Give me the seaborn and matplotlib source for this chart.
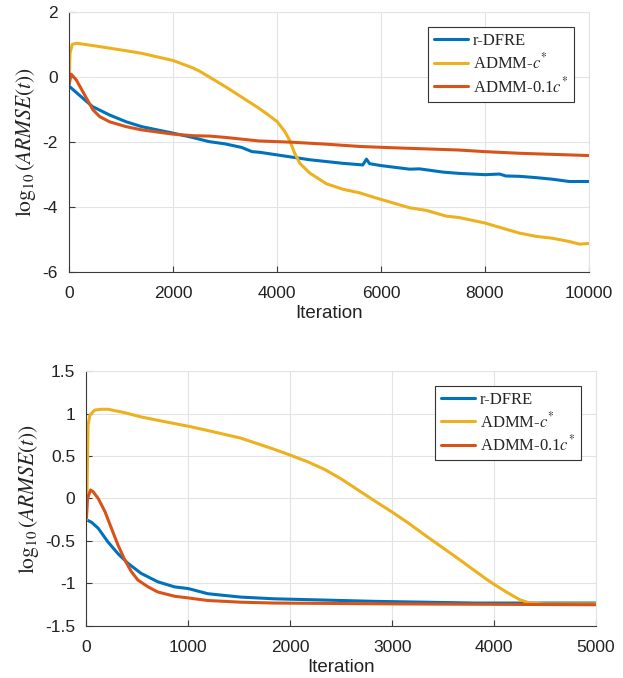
import numpy as np
import pandas as pd
import seaborn as sns
import matplotlib.pyplot as plt

# values
# top panel (10000 iterations), one (iteration, value) list per method
top_dfre_it = [0, 450, 780, 1100, 1400, 2000, 2370, 2690, 3000, 3320, 3520, 3670, 4000,
               4630, 5270, 5650, 5720, 5780, 6000, 6550, 6740, 7190, 7500, 8000, 8280,
               8400, 8660, 8980, 9300, 9620, 10000]
top_dfre = [-0.27, -0.9, -1.16, -1.37, -1.52, -1.72, -1.85, -1.98, -2.05, -2.16, -2.29,
            -2.31, -2.39, -2.54, -2.65, -2.7, -2.52, -2.66, -2.72, -2.83, -2.82, -2.92,
            -2.96, -3.0, -2.98, -3.04, -3.05, -3.09, -3.14, -3.21, -3.21]

top_admm_it = [0, 20, 64, 150, 460, 1100, 1400, 2000, 2370, 2500, 2690, 3000, 3390, 3650,
               3800, 4000, 4150, 4240, 4340, 4440, 4630, 4950, 5270, 5590, 5910, 6230,
               6550, 6870, 7260, 7500, 8000, 8340, 8660, 8980, 9300, 9620, 9820, 10000]
top_admm = [-0.2, 0.75, 1.02, 1.05, 0.98, 0.82, 0.74, 0.52, 0.3, 0.2, 0.02, -0.28, -0.68,
            -0.95, -1.12, -1.36, -1.67, -1.93, -2.34, -2.65, -2.95, -3.28, -3.45, -3.56,
            -3.72, -3.87, -4.02, -4.1, -4.28, -4.32, -4.49, -4.65, -4.8, -4.9, -4.96,
            -5.06, -5.14, -5.12]

top_admm01_it = [0, 40, 140, 300, 460, 590, 780, 1100, 1400, 2000, 2400, 2700, 3000, 3650,
                 4300, 4950, 5590, 6230, 7500, 8000, 8660, 10000]
top_admm01 = [-0.24, 0.1, -0.08, -0.54, -1.0, -1.21, -1.37, -1.52, -1.62, -1.75, -1.8,
              -1.81, -1.85, -1.96, -2.0, -2.06, -2.13, -2.17, -2.24, -2.29, -2.34, -2.41]

# bottom panel (5000 iterations)
bot_dfre_it = [0, 50, 115, 210, 310, 405, 535, 700, 865, 1000, 1190, 1350, 1515, 1840,
               2830, 3810, 5000]
bot_dfre = [-0.25, -0.28, -0.35, -0.51, -0.65, -0.76, -0.88, -0.98, -1.04, -1.06, -1.12,
            -1.14, -1.16, -1.18, -1.21, -1.23, -1.23]

bot_admm_it = [0, 16, 33, 80, 150, 210, 375, 535, 700, 1000, 1190, 1515, 1840, 2000, 2175,
               2340, 2500, 2665, 2830, 3000, 3160, 3320, 3485, 3650, 3810, 3925, 4000,
               4120, 4250, 4350, 4500, 5000]
bot_admm = [-0.25, 0.86, 0.98, 1.04, 1.05, 1.05, 1.01, 0.96, 0.92, 0.85, 0.8, 0.71, 0.58,
            0.51, 0.43, 0.34, 0.23, 0.1, -0.03, -0.16, -0.29, -0.43, -0.57, -0.71, -0.85,
            -0.95, -1.01, -1.1, -1.19, -1.23, -1.24, -1.24]

bot_admm01_it = [0, 10, 40, 65, 115, 180, 245, 310, 375, 440, 505, 605, 700, 865, 1000,
                 1190, 1515, 1840, 3000, 5000]
bot_admm01 = [-0.23, 0.0, 0.1, 0.08, 0.0, -0.15, -0.35, -0.55, -0.72, -0.86, -0.96, -1.04,
              -1.1, -1.15, -1.17, -1.2, -1.22, -1.23, -1.24, -1.25]

labels = ["r-DFRE", r"ADMM-$c^{*}$", r"ADMM-0.1$c^{*}$"]
colors = ["#0072BD", "#EDB120", "#D95319"]

sns.set_style("whitegrid")
plt.rcParams["font.family"] = ["Liberation Sans", "DejaVu Sans"]
plt.rcParams["mathtext.fontset"] = "stix"

fig = plt.figure(figsize=(6.23, 6.78), dpi=100)
ax1 = fig.add_axes([0.1108, 0.5988, 0.8346, 0.3828])
ax2 = fig.add_axes([0.1388, 0.0767, 0.8179, 0.3761])


def draw(ax, series, xlim, ylim, yticks, ylabels, xticks):
    for (x, y), lab, col in zip(series, labels, colors):
        sns.lineplot(x=x, y=y, ax=ax, color=col, label=lab, linewidth=2.2,
                     sort=False, estimator=None)
    ax.set_xlim(*xlim)
    ax.set_ylim(*ylim)
    ax.set_xticks(xticks)
    ax.set_yticks(yticks)
    ax.set_yticklabels(ylabels)
    ax.grid(True, color="#e3e3e3", linewidth=0.8)
    for s in ["top", "right"]:
        ax.spines[s].set_color("#e3e3e3")
        ax.spines[s].set_linewidth(0.8)
    for s in ["left", "bottom"]:
        ax.spines[s].set_color("#3a3a3a")
        ax.spines[s].set_linewidth(0.8)
    ax.tick_params(direction="in", length=4, color="#3a3a3a", labelsize=12.5,
                   labelcolor="#222222", left=True, bottom=True)
    ax.tick_params(axis="x", pad=10)
    ax.tick_params(axis="y", pad=8)
    ax.set_xlabel("Iteration", fontsize=13.5, color="#222222", labelpad=3)
    ax.set_ylabel(r"$\log_{10}(ARMSE(t))$", fontsize=15.5, color="#222222", labelpad=3)
    leg = ax.legend(loc="upper right", frameon=True, fancybox=False,
                    edgecolor="#333333", framealpha=1,
                    prop={"family": "Liberation Serif", "size": 12},
                    handlelength=2.05, handletextpad=0.28, labelspacing=0.2,
                    borderpad=0.35, borderaxespad=0.9)
    leg.get_frame().set_linewidth(0.8)


draw(ax1, [(top_dfre_it, top_dfre), (top_admm_it, top_admm), (top_admm01_it, top_admm01)],
     (0, 10000), (-6, 2), np.arange(-6, 3, 2), ["-6", "-4", "-2", "0", "2"],
     np.arange(0, 10001, 2000))
draw(ax2, [(bot_dfre_it, bot_dfre), (bot_admm_it, bot_admm), (bot_admm01_it, bot_admm01)],
     (0, 5000), (-1.5, 1.5), [-1.5, -1, -0.5, 0, 0.5, 1, 1.5],
     ["-1.5", "-1", "-0.5", "0", "0.5", "1", "1.5"], np.arange(0, 5001, 1000))

fig.savefig("out.png", dpi=100)
